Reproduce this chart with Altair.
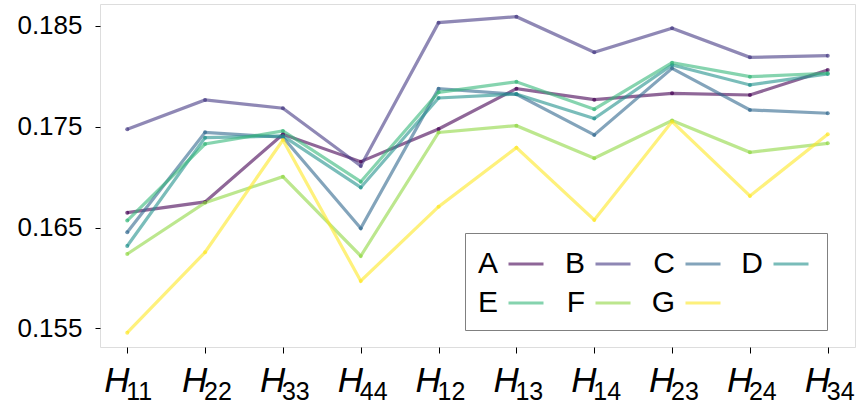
import altair as alt
import pandas as pd

# Matrix components along the x axis and their subscripts
components = ["H11", "H22", "H33", "H44", "H12", "H13", "H14", "H23", "H24", "H34"]
subscripts = ["11", "22", "33", "44", "12", "13", "14", "23", "24", "34"]

# One series per model variant
series_names = ["A", "B", "C", "D", "E", "F", "G"]
a_vals = [0.16648, 0.16754, 0.17426, 0.17154, 0.17478, 0.17878, 0.17769, 0.17832, 0.17815, 0.18063]
b_vals = [0.17475, 0.17766, 0.17684, 0.17111, 0.18533, 0.18592, 0.18239, 0.18477, 0.18189, 0.18205]
c_vals = [0.16453, 0.17445, 0.17396, 0.16493, 0.17878, 0.17822, 0.17419, 0.18080, 0.17667, 0.17634]
d_vals = [0.16317, 0.17392, 0.17409, 0.16898, 0.17786, 0.17825, 0.17582, 0.18113, 0.17915, 0.18024]
e_vals = [0.16569, 0.17329, 0.17458, 0.16955, 0.17842, 0.17946, 0.17674, 0.18136, 0.17997, 0.18031]
f_vals = [0.16238, 0.16747, 0.17005, 0.16218, 0.17443, 0.17511, 0.17188, 0.17561, 0.17247, 0.17336]
g_vals = [0.15457, 0.16255, 0.17369, 0.15970, 0.16707, 0.17293, 0.16575, 0.17551, 0.16814, 0.17426]

y_ticks = [0.155, 0.165, 0.175, 0.185]
viridis7 = ["#440154", "#443983", "#31688e", "#21918c", "#35b779", "#90d743", "#fde725"]

all_vals = [a_vals, b_vals, c_vals, d_vals, e_vals, f_vals, g_vals]
rows = []
for name, vals in zip(series_names, all_vals):
    for comp, v in zip(components, vals):
        rows.append({"series": name, "component": comp, "value": v})
df = pd.DataFrame(rows)
label_df = pd.DataFrame({"component": components, "sub": subscripts})

W, H = 755, 343

x_enc = alt.X(
    "component:N",
    sort=components,
    scale=alt.Scale(type="point", padding=0.35),
    axis=alt.Axis(labels=False, title=None, ticks=True, tickSize=6,
                  tickColor="black", tickWidth=1, domain=False, grid=False),
)
y_enc = alt.Y(
    "value:Q",
    scale=alt.Scale(domain=[0.15315, 0.18718], nice=False, zero=False),
    axis=alt.Axis(values=y_ticks, format=".3f", title=None, grid=False, domain=False,
                  tickSize=5, tickColor="black", tickWidth=1,
                  labelFontSize=26, labelFont="Liberation Sans", labelColor="black",
                  labelPadding=13),
)
color_enc = alt.Color(
    "series:N",
    sort=series_names,
    scale=alt.Scale(domain=series_names, range=viridis7),
    legend=alt.Legend(
        title=None, orient="none", legendX=365, legendY=229,
        columns=4, direction="horizontal",
        symbolType="stroke", symbolSize=1225, symbolStrokeWidth=3, symbolOpacity=0.6,
        symbolOffset=30,
        labelFontSize=30, labelFont="Liberation Sans", labelColor="black",
        # each label sits to the left of its line sample
        labelAlign="right", labelOffset={"expr": "-47"}, labelLimit=0,
        columnPadding=14, rowPadding=5, padding=12,
        strokeColor="#808080", fillColor="white", cornerRadius=0,
    ),
)

lines = alt.Chart(df).mark_line(
    strokeWidth=3.2, opacity=0.6,
    point=alt.OverlayMarkDef(size=16, opacity=0.7, filled=True),
).encode(x=x_enc, y=y_enc, color=color_enc)

# x tick labels: italic H with a subscript index
h_text = alt.Chart(label_df).mark_text(
    text="H", font="Liberation Sans", fontStyle="italic", fontSize=35,
    align="left", baseline="alphabetic", dx=-23, color="black",
).encode(x=alt.X("component:N", sort=components), y=alt.value(388))

sub_text = alt.Chart(label_df).mark_text(
    font="Liberation Sans", fontSize=25,
    align="left", baseline="alphabetic", dx=-1, color="black",
).encode(x=alt.X("component:N", sort=components), y=alt.value(396), text="sub:N")

chart = alt.layer(lines, h_text, sub_text).properties(
    width=W, height=H,
    padding={"left": 100, "top": 4, "right": 1, "bottom": 62},
    autosize=alt.AutoSizeParams(type="none"),
).configure_view(
    stroke="black", strokeWidth=1.5
).configure_legend(
    strokeWidth=2
).configure(background="white")

chart.save("out.html", embed_options={"renderer": "svg", "actions": False})
